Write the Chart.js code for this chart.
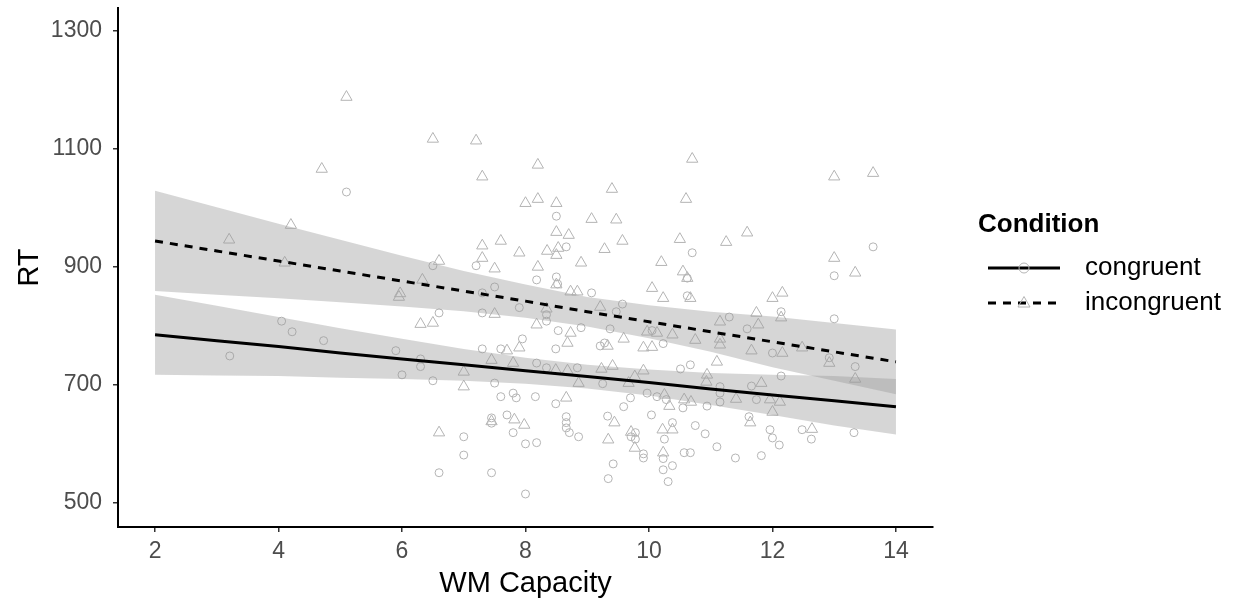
<!DOCTYPE html>
<html>
<head>
<meta charset="utf-8">
<script src="https://cdn.jsdelivr.net/npm/chart.js@4.4.0/dist/chart.umd.min.js"></script>
<style>
  html, body { margin: 0; padding: 0; background: #fff; }
  #wrap { width: 1235px; height: 602px; }
</style>
</head>
<body>
<div id="wrap"><canvas id="chart" width="1235" height="602"></canvas></div>
<script>
// tick labels
const xTicks = [2, 4, 6, 8, 10, 12, 14];
const yTicks = [500, 700, 900, 1100, 1300];

// congruent trials (open circles)
const congX = [5.1, 6.5, 7.2, 7.5, 7.3, 6.6, 7.3, 7.9, 7.95, 5.9, 7.3, 7.6, 6.3, 6.3, 6.0, 6.5, 7.5, 7.6, 7.8, 7.85,
  7.7, 7.45, 7.0, 7.0, 6.6, 7.45, 8.0, 7.8, 8.0, 7.45, 8.5, 8.66, 10.7, 8.5, 8.18, 8.52, 9.07, 10.62, 9.57, 9.47,
  8.34, 8.34, 8.9, 9.37, 8.53, 8.49, 9.28, 9.21, 10.05, 10.23, 8.18, 8.34, 8.84, 9.25, 10.51, 10.67, 11.15, 11.15, 11.15, 8.16,
  8.49, 9.7, 9.97, 10.13, 10.28, 10.55, 10.94, 9.59, 10.04, 8.66, 9.33, 8.66, 8.66, 8.71, 8.86, 8.18, 9.78, 9.71, 9.78, 9.91,
  9.91, 9.42, 9.34, 10.38, 10.25, 10.23, 10.23, 10.38, 10.31, 10.57, 10.67, 10.75, 10.91, 11.1, 13.63, 13.0, 12.14, 13.0, 11.59, 11.3,
  12.0, 12.92, 13.34, 12.14, 11.66, 11.74, 11.62, 11.96, 12.0, 12.11, 11.4, 11.82, 12.48, 12.63, 13.32, 4.05, 4.22, 4.73, 3.21, 10.62];
const congY = [1027, 902, 902, 866, 856, 822, 822, 831, 778, 758, 761, 761, 744, 731, 717, 707, 703, 680, 686, 678,
  649, 644, 612, 581, 551, 551, 515, 619, 600, 635, 986, 934, 924, 883, 878, 871, 856, 851, 837, 824,
  819, 808, 797, 795, 792, 761, 771, 766, 792, 770, 737, 729, 729, 702, 727, 734, 697, 686, 671, 680,
  668, 678, 686, 680, 675, 661, 664, 663, 649, 646, 647, 636, 627, 619, 612, 602, 619, 612, 608, 583,
  576, 566, 541, 636, 608, 575, 556, 563, 536, 585, 585, 631, 617, 595, 934, 885, 824, 812, 795, 815,
  754, 746, 731, 715, 698, 675, 646, 624, 610, 598, 576, 580, 624, 608, 619, 808, 790, 775, 749, 881];

// incongruent trials (open triangles)
const incX = [3.2, 4.2, 4.1, 4.7, 5.1, 6.5, 7.2, 7.3, 8.0, 7.6, 7.3, 7.9, 7.3, 7.5, 6.6, 5.95, 5.97, 6.33, 7.5, 6.3,
  6.5, 7.45, 7.7, 7.9, 7.8, 7.0, 7.0, 7.45, 7.82, 7.98, 6.6, 8.2, 10.7, 9.4, 10.6, 8.2, 8.5, 9.07, 9.47, 8.5,
  8.7, 9.57, 10.5, 11.25, 9.28, 8.35, 8.53, 8.5, 8.9, 10.2, 8.2, 10.55, 10.62, 8.5, 8.73, 8.84, 10.05, 10.23, 10.67, 9.21,
  8.34, 8.18, 8.73, 8.68, 9.33, 9.59, 9.97, 10.13, 10.38, 9.91, 10.05, 10.75, 11.15, 11.15, 11.15, 11.1, 8.49, 8.68, 8.86, 9.23,
  9.41, 9.91, 9.77, 9.67, 10.94, 10.93, 8.66, 10.25, 10.33, 10.57, 10.68, 9.34, 9.44, 9.71, 9.77, 10.22, 10.38, 10.23, 13.0, 13.63,
  11.59, 13.0, 13.34, 12.16, 12.0, 11.74, 12.14, 11.77, 11.66, 12.16, 12.48, 12.92, 13.34, 11.82, 11.41, 11.96, 12.12, 12.0, 11.64, 12.64];
const incY = [946, 971, 907, 1066, 1188, 1117, 1114, 1053, 1008, 944, 936, 924, 915, 897, 910, 849, 855, 878, 820, 803,
  805, 742, 758, 763, 737, 722, 697, 638, 641, 632, 619, 1073, 1083, 1032, 1015, 1015, 1008, 981, 980, 959,
  954, 944, 947, 942, 930, 927, 932, 920, 907, 908, 900, 892, 881, 870, 858, 858, 864, 847, 847, 832,
  829, 802, 788, 771, 766, 778, 790, 788, 785, 763, 764, 776, 807, 778, 768, 739, 725, 724, 703, 727,
  732, 724, 714, 703, 717, 705, 678, 683, 664, 675, 671, 607, 636, 620, 593, 624, 624, 585, 1053, 1059,
  958, 915, 890, 856, 847, 822, 814, 802, 758, 754, 763, 737, 710, 703, 676, 675, 671, 654, 636, 625];

// fitted lines and 95% bands, read at each integer WM capacity
const fitX = [2, 3, 4, 5, 6, 7, 8, 9, 10, 11, 12, 13, 14];
const congFit = [785, 775, 765, 754, 744, 734, 724, 714, 704, 693, 683, 673, 663];
const congUpper = [853, 834, 815, 796, 778, 761, 746, 734, 726, 720, 717, 715, 710];
const congLower = [717, 716, 715, 712, 710, 707, 702, 694, 682, 666, 649, 631, 616];
const incFit = [944, 927, 910, 893, 876, 859, 842, 824, 807, 790, 773, 756, 739];
const incUpper = [1029, 1001, 973, 946, 919, 893, 870, 849, 835, 824, 816, 805, 794];
const incLower = [859, 853, 847, 840, 833, 825, 814, 799, 779, 756, 730, 707, 684];

const FONT = '"Liberation Sans", Arial, sans-serif';
const pointGrey = '#b4b4b4';
const bandFill = 'rgba(153,153,153,0.4)';

function pts(xs, ys) {
  return xs.map((x, i) => ({ x: x, y: ys[i] }));
}

function bandSet(ys, fill) {
  return {
    data: pts(fitX, ys),
    showLine: true,
    fill: fill,
    backgroundColor: bandFill,
    borderWidth: 0,
    borderColor: 'rgba(0,0,0,0)',
    pointRadius: 0,
    order: 1
  };
}

// legend drawn by hand so it sits like the ggplot one
const conditionLegend = {
  id: 'conditionLegend',
  afterDraw(chart) {
    const ctx = chart.ctx;
    ctx.save();
    ctx.fillStyle = '#000';
    ctx.textBaseline = 'middle';
    ctx.textAlign = 'left';
    ctx.font = 'bold 26px ' + FONT;
    ctx.fillText('Condition', 978, 225);

    const rows = [
      { y: 268, label: 'congruent', dash: [], shape: 'circle' },
      { y: 303, label: 'incongruent', dash: [8, 7], shape: 'triangle' }
    ];
    rows.forEach(r => {
      ctx.strokeStyle = '#000';
      ctx.lineWidth = 3;
      ctx.setLineDash(r.dash);
      ctx.beginPath();
      ctx.moveTo(988, r.y);
      ctx.lineTo(1060, r.y);
      ctx.stroke();
      ctx.setLineDash([]);
      ctx.strokeStyle = pointGrey;
      ctx.lineWidth = 1;
      ctx.beginPath();
      if (r.shape === 'circle') {
        ctx.arc(1024, r.y, 5, 0, Math.PI * 2);
      } else {
        ctx.moveTo(1024, r.y - 6.5);
        ctx.lineTo(1030, r.y + 4);
        ctx.lineTo(1018, r.y + 4);
        ctx.closePath();
      }
      ctx.stroke();
      ctx.fillStyle = '#000';
      ctx.font = '26px ' + FONT;
      ctx.fillText(r.label, 1085, r.y);
    });
    ctx.restore();
  }
};

const ctx = document.getElementById('chart').getContext('2d');
new Chart(ctx, {
  type: 'scatter',
  data: {
    datasets: [
      bandSet(incUpper, '+1'),
      bandSet(incLower, false),
      bandSet(congUpper, '+1'),
      bandSet(congLower, false),
      {
        label: 'congruent',
        data: pts(congX, congY),
        pointStyle: 'circle',
        pointRadius: 4,
        borderColor: pointGrey,
        backgroundColor: 'rgba(0,0,0,0)',
        borderWidth: 1,
        order: 2
      },
      {
        label: 'incongruent',
        data: pts(incX, incY),
        pointStyle: 'triangle',
        pointRadius: 6.5,
        borderColor: pointGrey,
        backgroundColor: 'rgba(0,0,0,0)',
        borderWidth: 1,
        order: 2
      },
      {
        data: pts(fitX, congFit),
        showLine: true,
        borderColor: '#000',
        borderWidth: 3,
        pointRadius: 0,
        fill: false,
        order: 0
      },
      {
        data: pts(fitX, incFit),
        showLine: true,
        borderColor: '#000',
        borderWidth: 3,
        borderDash: [8, 7],
        pointRadius: 0,
        fill: false,
        order: 0
      }
    ]
  },
  options: {
    responsive: false,
    animation: false,
    events: [],
    layout: { padding: { left: 0, top: 8, right: 302, bottom: 0 } },
    plugins: {
      legend: { display: false },
      tooltip: { enabled: false }
    },
    scales: {
      x: {
        type: 'linear',
        min: 1.4,
        max: 14.6,
        afterBuildTicks: (scale) => { scale.ticks = xTicks.map(v => ({ value: v })); },
        afterFit: (scale) => { scale.height = 75; scale.paddingLeft = 0; scale.paddingRight = 0; },
        grid: { drawOnChartArea: false, drawTicks: true, tickLength: 5, color: '#333', lineWidth: 1.5 },
        border: { display: true, color: '#000', width: 2 },
        ticks: { color: '#4d4d4d', font: { family: FONT, size: 23 }, padding: 6, maxRotation: 0,
          callback: (v) => String(v) },
        title: { display: true, text: 'WM Capacity', color: '#000', font: { family: FONT, size: 29 }, padding: { top: 0, bottom: 1 } }
      },
      y: {
        type: 'linear',
        min: 459,
        max: 1339,
        afterBuildTicks: (scale) => { scale.ticks = yTicks.map(v => ({ value: v })); },
        afterFit: (scale) => { scale.width = 118; scale.paddingTop = 0; scale.paddingBottom = 0; },
        grid: { drawOnChartArea: false, drawTicks: true, tickLength: 5, color: '#333', lineWidth: 1.5 },
        border: { display: true, color: '#000', width: 2 },
        ticks: { color: '#4d4d4d', font: { family: FONT, size: 23 }, padding: 11,
          callback: (v) => String(v) },
        title: { display: true, text: 'RT', color: '#000', font: { family: FONT, size: 29 }, padding: { top: 13, bottom: 0 } }
      }
    }
  },
  plugins: [conditionLegend]
});
</script>
</body>
</html>
